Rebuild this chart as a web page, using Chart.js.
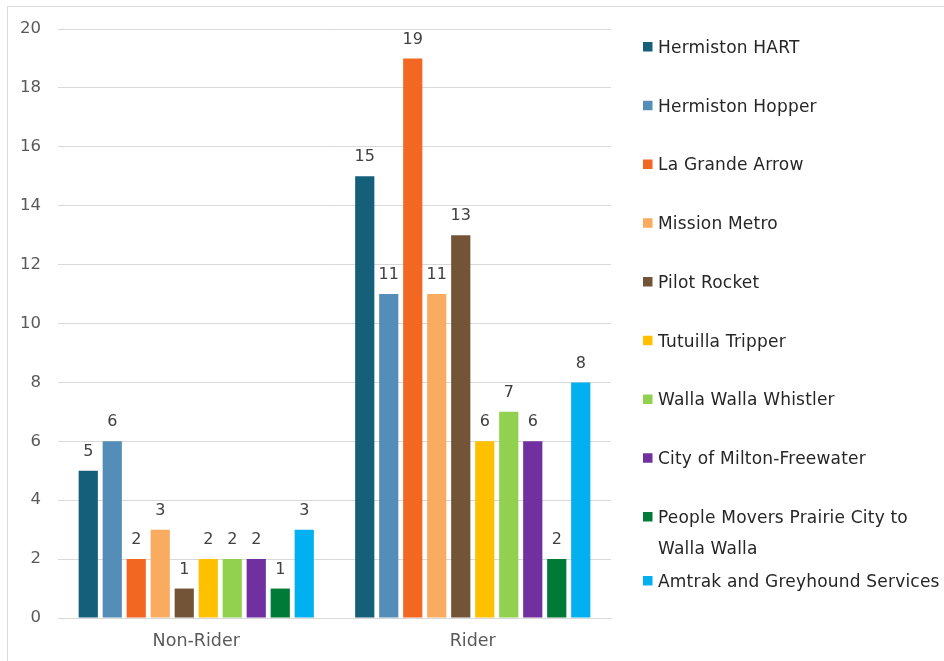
<!DOCTYPE html>
<html>
<head>
<meta charset="utf-8">
<script src="https://cdn.jsdelivr.net/npm/chart.js@4.4.1/dist/chart.umd.min.js"></script>
<style>
  html, body { margin: 0; padding: 0; background: #fff; }
  #wrap { position: relative; width: 944px; height: 661px; }
</style>
</head>
<body>
<div id="wrap"><canvas id="c" width="944" height="661"></canvas></div>
<script>
const categories = ["Non-Rider", "Rider"];
const seriesNames = [
  "Hermiston HART",
  "Hermiston Hopper",
  "La Grande Arrow",
  "Mission Metro",
  "Pilot Rocket",
  "Tutuilla Tripper",
  "Walla Walla Whistler",
  "City of Milton-Freewater",
  "People Movers Prairie City to Walla Walla",
  "Amtrak and Greyhound Services"
];
const nonRider = [5, 6, 2, 3, 1, 2, 2, 2, 1, 3];
const rider = [15, 11, 19, 11, 13, 6, 7, 6, 2, 8];
const yTicks = [0, 2, 4, 6, 8, 10, 12, 14, 16, 18, 20];
const colors = [
  "#155F7A", "#548EB8", "#F26722", "#F9AB5F", "#745437",
  "#FFC000", "#92D050", "#7030A0", "#007A37", "#00B0F0"
];
// legend lines (long names broken across two lines)
const legendLines = [
  ["Hermiston HART"], ["Hermiston Hopper"], ["La Grande Arrow"], ["Mission Metro"],
  ["Pilot Rocket"], ["Tutuilla Tripper"], ["Walla Walla Whistler"],
  ["City of Milton-Freewater"], ["People Movers Prairie City to", "Walla Walla"],
  ["Amtrak and Greyhound Services"]
];

const FONT = "'DejaVu Sans', sans-serif";

const datasets = seriesNames.map((name, i) => ({
  label: name,
  data: [nonRider[i], rider[i]],
  backgroundColor: colors[i],
  borderWidth: 0,
  barPercentage: 0.8,
  categoryPercentage: 0.868
}));

// frame around the chart
const framePlugin = {
  id: "frame",
  beforeDraw(chart) {
    const ctx = chart.ctx;
    ctx.save();
    ctx.fillStyle = "#fff";
    ctx.fillRect(0, 0, chart.width, chart.height);
    ctx.strokeStyle = "#d9d9d9";
    ctx.lineWidth = 1;
    ctx.strokeRect(7.5, 6.5, chart.width, chart.height);
    ctx.restore();
  }
};

// value labels above each bar
const valueLabels = {
  id: "valueLabels",
  afterDatasetsDraw(chart) {
    const ctx = chart.ctx;
    ctx.save();
    ctx.font = "16px " + FONT;
    ctx.fillStyle = "#404040";
    ctx.textAlign = "center";
    ctx.textBaseline = "middle";
    chart.data.datasets.forEach((ds, di) => {
      const meta = chart.getDatasetMeta(di);
      meta.data.forEach((bar, j) => {
        ctx.fillText(String(ds.data[j]), bar.x, bar.y - 19);
      });
    });
    ctx.restore();
  }
};

// legend to the right of the plot
const sideLegend = {
  id: "sideLegend",
  afterDraw(chart) {
    const ctx = chart.ctx;
    ctx.save();
    ctx.font = "17px " + FONT;
    ctx.letterSpacing = "0.2px";
    ctx.textAlign = "left";
    ctx.textBaseline = "middle";
    let y = 48.5;
    chart.data.datasets.forEach((ds, i) => {
      const lines = legendLines[i];
      ctx.fillStyle = ds.backgroundColor;
      ctx.fillRect(643, y - 6.5, 9.5, 9.5);
      ctx.fillStyle = "#262626";
      lines.forEach((t, k) => ctx.fillText(t, 658, y + k * 31));
      y += lines.length > 1 ? 64 : 58.75;
    });
    ctx.restore();
  }
};

new Chart(document.getElementById("c"), {
  type: "bar",
  data: { labels: categories, datasets },
  options: {
    responsive: false,
    animation: false,
    devicePixelRatio: 1,
    layout: { padding: { left: 0, top: 29, right: 333, bottom: 0 } },
    plugins: {
      legend: { display: false },
      tooltip: { enabled: false }
    },
    scales: {
      x: {
        grid: { display: false, drawTicks: false },
        border: { display: true, color: "#d9d9d9", width: 1 },
        ticks: { color: "#595959", font: { family: FONT, size: 17.5 }, padding: 13 },
        afterFit(s) { s.height = 43; }
      },
      y: {
        min: 0,
        max: 20,
        afterBuildTicks(s) { s.ticks = yTicks.map(v => ({ value: v })); },
        grid: { color: "#d9d9d9", drawTicks: false },
        border: { display: false },
        ticks: { color: "#595959", font: { family: FONT, size: 16.5 }, padding: 17 },
        afterFit(s) { s.width = 58; }
      }
    }
  },
  plugins: [framePlugin, valueLabels, sideLegend]
});
</script>
</body>
</html>
